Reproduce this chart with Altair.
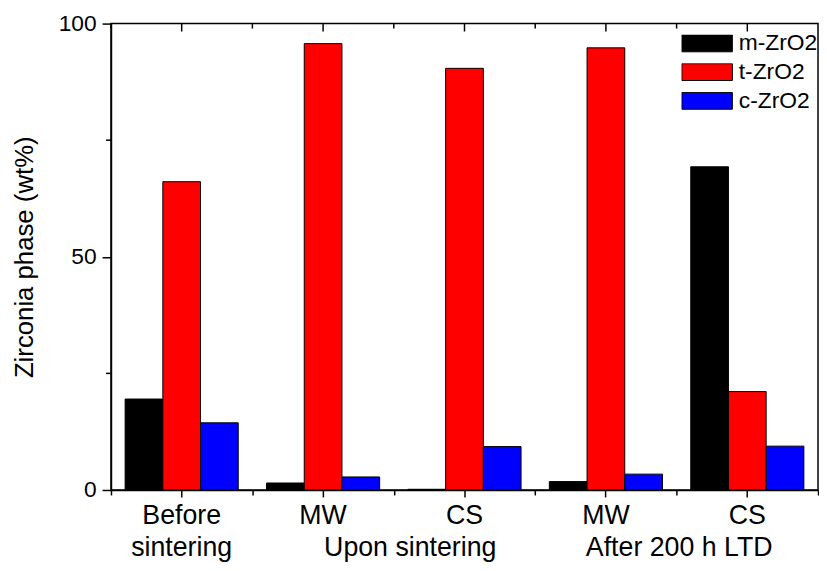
import altair as alt
import pandas as pd

# ---- data ----
groups = ["Before sintering", "MW upon sintering", "CS upon sintering", "MW after LTD", "CS after LTD"]
first_line = ["Before", "MW", "CS", "MW", "CS"]
phases = ["m-ZrO2", "t-ZrO2", "c-ZrO2"]
m_zro2 = [19.5, 1.5, 0.15, 1.8, 69.3]
t_zro2 = [66.1, 95.7, 90.4, 94.8, 21.1]
c_zro2 = [14.4, 2.8, 9.3, 3.4, 9.4]
colors = ["#000000", "#ff0000", "#0000ff"]
second_line = ["sintering", "Upon sintering", "After 200 h LTD"]
second_anchor = ["Before sintering", "MW upon sintering", "MW after LTD"]
y_major = [0, 50, 100]
y_minor = [25, 75]

FONT = "Liberation Sans"

bars_df = pd.DataFrame({
    "group": groups * 3,
    "phase": [p for p in phases for _ in groups],
    "value": m_zro2 + t_zro2 + c_zro2,
})
labels_df = pd.DataFrame({"group": groups, "label": first_line})
second_df = pd.DataFrame({"group": second_anchor, "label": second_line,
                          "row": [0, 1, 2]})
minor_df = pd.DataFrame({"v": y_minor})

label_expr = " : ".join(
    [f"datum.value == '{g}' ? '{l}'" for g, l in zip(groups, first_line)] + ["''"]
)

x_scale = alt.Scale(domain=groups, paddingInner=0, paddingOuter=0)
y_scale = alt.Scale(domain=[0, 100], nice=False)

bars = alt.Chart(bars_df).mark_bar(stroke="black", strokeWidth=1).encode(
    x=alt.X("group:N", sort=groups, scale=x_scale,
            axis=alt.Axis(title=None, orient="bottom", labelExpr=label_expr,
                          labelAngle=0, labelFont=FONT, labelFontSize=27,
                          labelColor="black", labelBaseline="alphabetic",
                          labelPadding=27, tickSize=7, tickWidth=1.5,
                          tickColor="black", domainColor="black",
                          domainWidth=1.5, grid=False)),
    xOffset=alt.XOffset("phase:N", sort=phases,
                        scale=alt.Scale(domain=phases, paddingInner=0, paddingOuter=0.375)),
    y=alt.Y("value:Q", scale=y_scale,
            axis=alt.Axis(title="Zirconia phase (wt%)", values=y_major, grid=False,
                          labelFont=FONT, labelFontSize=23, labelColor="black",
                          labelPadding=6, tickSize=9, tickWidth=1.5,
                          tickColor="black", domainColor="black", domainWidth=1.5,
                          titleFont=FONT, titleFontSize=26, titleFontWeight="normal",
                          titleColor="black", titleAngle=-90, titleX=-79, titleY=235.5,
                          titleBaseline="alphabetic", titleAlign="center")),
    color=alt.Color("phase:N", sort=phases, scale=alt.Scale(domain=phases, range=colors),
                    legend=alt.Legend(title=None, orient="none", legendX=576, legendY=11,
                                      symbolType="M-1,-0.333H1V0.333H-1Z",
                                      symbolSize=2601, symbolStrokeColor="black",
                                      symbolStrokeWidth=1, symbolOpacity=1,
                                      clipHeight=18,
                                      labelFont=FONT, labelFontSize=23,
                                      labelColor="black", labelOffset=6,
                                      rowPadding=6, padding=0)),
)

# minor x ticks at group boundaries (second bottom axis)
bottom_minor = alt.Chart(labels_df).mark_point(opacity=0).encode(
    x=alt.X("group:N", sort=groups, scale=x_scale,
            axis=alt.Axis(title=None, orient="bottom", labels=False, domain=False,
                          grid=False, tickBand="extent", tickSize=5, tickWidth=1.5,
                          tickColor="black")),
    y=alt.value(0),
)

# inward ticks on the top frame
top_major = alt.Chart(labels_df).mark_rule(color="black", strokeWidth=1.5).encode(
    x=alt.X("group:N", sort=groups, scale=x_scale, axis=None),
    y=alt.value(0),
    y2=alt.value(8),
)
top_minor = alt.Chart(labels_df).mark_rule(color="black", strokeWidth=1.5).encode(
    x=alt.X("group:N", sort=groups, scale=x_scale, bandPosition=0, axis=None),
    y=alt.value(0),
    y2=alt.value(5),
)

y_minor_ticks = alt.Chart(minor_df).mark_rule(color="black", strokeWidth=1.5).encode(
    y=alt.Y("v:Q", scale=y_scale, axis=None),
    x=alt.value(-5),
    x2=alt.value(0),
)


def second_text(row, dx):
    return alt.Chart(second_df).transform_filter(f"datum.row == {row}").mark_text(
        font=FONT, fontSize=27, color="black", baseline="alphabetic", align="center", dx=dx
    ).encode(
        x=alt.X("group:N", sort=groups, scale=x_scale, axis=None),
        y=alt.value(538),
        text="label:N",
    )


chart = alt.layer(
    bars, bottom_minor, top_major, top_minor, y_minor_ticks,
    second_text(0, 0), second_text(1, 88), second_text(2, 74)
).resolve_axis(x="independent", y="independent").properties(
    width=714, height=471,
    padding={"left": 104, "top": 13, "right": 1, "bottom": 71},
    autosize=alt.AutoSizeParams(type="none"),
    background="white",
).configure_view(stroke="black", strokeWidth=1.5)

chart.save("out.html", embed_options={"renderer": "svg", "actions": False})
